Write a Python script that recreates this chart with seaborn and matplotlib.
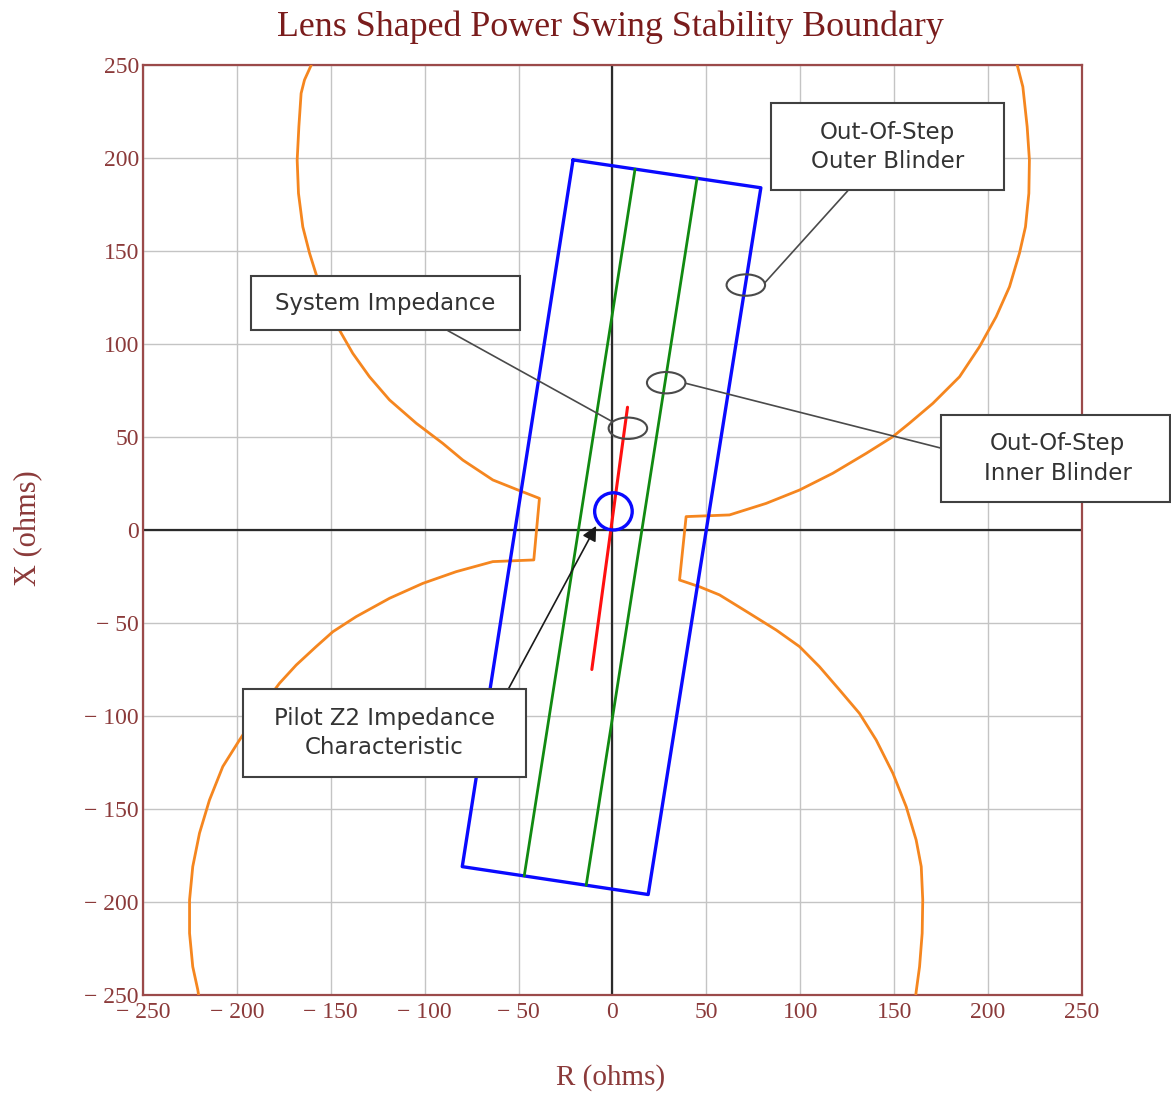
import numpy as np
import pandas as pd
import matplotlib
matplotlib.use('Agg')
import matplotlib.pyplot as plt
from matplotlib.patches import Ellipse, Rectangle, Circle
import seaborn as sns

# --- data (ohms) ---
ticks = [-250, -200, -150, -100, -50, 0, 50, 100, 150, 200, 250]
tick_labels = ['\u2212 250', '\u2212 200', '\u2212 150', '\u2212 100', '\u2212 50',
               '0', '50', '100', '150', '200', '250']

# left half of the lens (upper arc, notch, lower arc)
lens_left_r = [-160.4, -164, -165.8, -167, -167.9, -167.2, -164.9, -161.3, -157.4,
               -145.4, -138.3, -129.4, -118.7, -104.5, -90.4, -79.7, -63.7, -51.3,
               -38.9, -41.9, -63.7, -83.2, -101, -118.7, -136.5, -148.9, -157.8,
               -168.4, -177.3, -188, -198.6, -207.5, -214.6, -219.9, -223.5, -225.2,
               -225.2, -223.5, -220.8, -220.4]
lens_left_x = [250, 242, 234.8, 216.8, 198.9, 181, 163, 148.8, 136.2,
               107.5, 95, 82.4, 69.9, 57.4, 46.6, 37.6, 26.9, 21.9,
               17, -16.1, -17, -22.4, -28.7, -36.7, -46.6, -54.7, -62.7,
               -72.6, -82.4, -96.8, -112.9, -127.2, -145.2, -163, -181, -198.9,
               -216.8, -234.8, -247.3, -250]

# right half of the lens
lens_right_r = [215.5, 218.5, 220.8, 222, 221.7, 219.9, 216.7, 211.4, 204.3, 195.4,
                184.8, 170.6, 158.1, 149.3, 135.1, 117.3, 99.6, 81.8, 62.3,
                39.2, 35.7, 46.3, 57, 72.9, 87.2, 99.6, 110.2, 120.9, 131.5, 140.4,
                149.3, 156.4, 161.7, 164.4, 165.2, 164.9, 163.5, 161.7, 161.5]
lens_right_x = [250, 238.3, 216.8, 198.9, 181, 163, 148.8, 130.8, 114.7, 98.5,
                82.4, 68.1, 57.4, 50.2, 41.2, 30.5, 21.5, 14.3, 8.1,
                7.2, -26.9, -30.5, -34.9, -44.8, -53.8, -62.7, -73.5, -86, -98.6, -112.9,
                -130.8, -148.8, -166.7, -181, -198.9, -216.8, -234.8, -248.2, -250]

outer_blinder_r = [-21, 79, 19, -80, -21]
outer_blinder_x = [199, 184, -196, -181, 199]

inner_left_r = [12, -47]
inner_left_x = [194, -186]
inner_right_r = [45, -14]
inner_right_x = [189, -191]

system_r = [-11, 8]
system_x = [-75, 66]

pilot_center = (0.5, 10)
pilot_radius = 10

LABEL_RED = '#8b3a3a'
TITLE_RED = '#7a1c1c'
BOX_GRAY = '#404040'

sns.set_style('white')
plt.rcParams['font.family'] = ['DejaVu Sans']

fig = plt.figure(figsize=(11.71, 10.93), dpi=100)
ax = fig.add_axes([0.1221, 0.0897, 0.8019, 0.8508])

for v in ticks:
    ax.axvline(v, color='#c4c4c4', lw=1.0, zorder=0)
    ax.axhline(v, color='#c4c4c4', lw=1.0, zorder=0)
ax.axvline(0, color='#2a2a2a', lw=1.6, zorder=1)
ax.axhline(0, color='#2a2a2a', lw=1.6, zorder=1)


def poly(r, x, color, lw):
    df = pd.DataFrame({'R': r, 'X': x})
    sns.lineplot(data=df, x='R', y='X', sort=False, estimator=None,
                 color=color, lw=lw, ax=ax, zorder=3)


poly(lens_left_r, lens_left_x, '#f5861f', 2.0)
poly(lens_right_r, lens_right_x, '#f5861f', 2.0)
poly(outer_blinder_r, outer_blinder_x, '#0a0aff', 2.4)
poly(inner_left_r, inner_left_x, '#118a11', 2.0)
poly(inner_right_r, inner_right_x, '#118a11', 2.0)
poly(system_r, system_x, '#ff1010', 2.2)
ax.add_patch(Circle(pilot_center, pilot_radius, fill=False, ec='#0a0aff', lw=2.4, zorder=4))

# callout ellipses and leader lines
for (cx, cy) in [(71, 131.7), (28.6, 79.2), (8.2, 54.7)]:
    ax.add_patch(Ellipse((cx, cy), 20.5, 11.5, fill=False, ec='#4a4a4a', lw=1.5, zorder=5))
ax.plot([81, 125.3], [132.8, 182.4], color='#4a4a4a', lw=1.2, zorder=5)
ax.plot([38.9, 175], [78.9, 44], color='#4a4a4a', lw=1.2, zorder=5, clip_on=False)
ax.plot([-87.7, -0.7], [107.2, 58.6], color='#4a4a4a', lw=1.2, zorder=5)
ax.annotate('', xy=(-8.7, 2.2), xytext=(-55.7, -86),
            arrowprops=dict(arrowstyle='-|>', color='#1a1a1a', lw=1.2,
                            mutation_scale=22, shrinkA=0, shrinkB=0), zorder=5)

boxes = [
    ((84.5, 182.8), 124.2, 46.6, (146.6, 206), 'Out-Of-Step\nOuter Blinder'),
    ((175, 15.2), 122, 46.6, (237, 38.5), 'Out-Of-Step\nInner Blinder'),
    ((-192.4, 107.5), 142.9, 29.1, (-121, 122), 'System Impedance'),
    ((-196.9, -133), 150.9, 47.4, (-121.5, -109.3), 'Pilot Z2 Impedance\nCharacteristic'),
]
for (xy, w, h, txy, txt) in boxes:
    ax.add_patch(Rectangle(xy, w, h, fc='white', ec=BOX_GRAY, lw=1.5, zorder=6, clip_on=False))
    ax.text(txy[0], txy[1], txt, ha='center', va='center', fontsize=16.5,
            color='#333333', linespacing=1.35, zorder=7, clip_on=False)

ax.set_xlim(-250, 250)
ax.set_ylim(-250, 250)
ax.set_xticks(ticks, tick_labels)
ax.set_yticks(ticks, tick_labels)
ax.tick_params(axis='x', length=0, pad=5, labelsize=17, colors=LABEL_RED)
ax.tick_params(axis='y', length=0, pad=3, labelsize=17, colors=LABEL_RED)
for lab in ax.get_xticklabels() + ax.get_yticklabels():
    lab.set_family('Liberation Serif')
for s in ax.spines.values():
    s.set_color('#9b4a4a')
    s.set_linewidth(1.6)
    s.set_visible(True)
ax.set_xlabel('')
ax.set_ylabel('')

fig.text(0.521, 0.975, 'Lens Shaped Power Swing Stability Boundary', ha='center', va='center',
         fontsize=25.8, color=TITLE_RED, family='Liberation Serif')
fig.text(0.521, 0.0146, 'R (ohms)', ha='center', va='center', fontsize=21,
         color=LABEL_RED, family='Liberation Serif')
fig.text(0.024, 0.517, 'X (ohms)', ha='center', va='center', fontsize=22, rotation=90,
         color=LABEL_RED, family='Liberation Serif')

fig.savefig('out.png', dpi=100)
